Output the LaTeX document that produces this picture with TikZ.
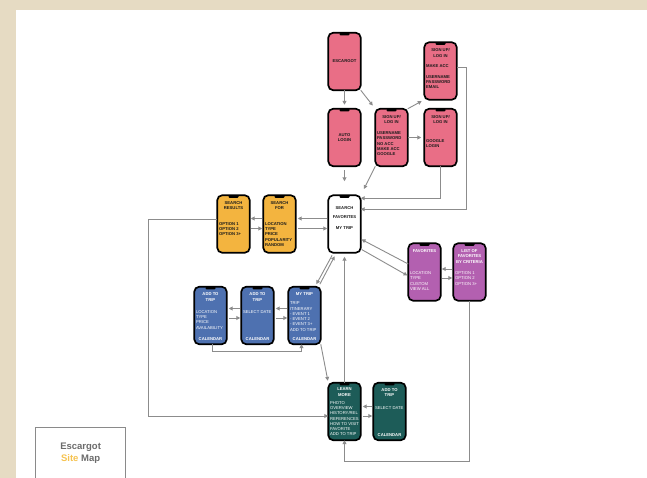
\documentclass[tikz,border=0pt]{standalone}
\usepackage{fontspec}
\setmainfont{Liberation Sans}
\usetikzlibrary{arrows.meta}
\definecolor{beige}{HTML}{E6DBC3}
\definecolor{pinkf}{HTML}{E96E86}
\definecolor{yelf}{HTML}{F3B43F}
\definecolor{purf}{HTML}{B360B0}
\definecolor{bluef}{HTML}{4E71B0}
\definecolor{tealf}{HTML}{1D5C58}
\definecolor{cgray}{HTML}{8C8C8C}
\definecolor{legtext}{HTML}{6B6B6B}
\definecolor{legframe}{HTML}{8A8A8A}
\definecolor{siteY}{HTML}{F6C350}
\definecolor{darktext}{HTML}{1A1A1A}
\newcommand\phsz{\fontsize{4.2}{5.3}\selectfont}
\newcommand\phbox[2]{\parbox[c][53pt][t]{29pt}{\phsz\bfseries\vspace*{#1}#2}}
\newcommand\phmid[1]{\parbox[c][53pt][c]{29pt}{\phsz\bfseries\centering #1\par}}
\newcommand\pht[1]{{\centering #1\par}}
\newcommand\phl[1]{{\raggedright #1\par}}
\newcommand\phlm[1]{{\raggedright\mdseries #1\par}}
\newcommand\phcal{\vfill{\centering CALENDAR\par}\vspace*{1.5pt}}
\tikzset{
  phone/.style={draw=black, line width=1.7pt, rounded corners=5pt,
    minimum width=32.5pt, minimum height=57.5pt, inner sep=0pt, outer sep=0pt,
    path picture={\fill[black, rounded corners=1pt]
      ([xshift=-5pt]path picture bounding box.north) rectangle
      ([xshift=5pt,yshift=-2.6pt]path picture bounding box.north);}},
  pinkph/.style={phone, fill=pinkf, text=darktext},
  yelph/.style={phone, fill=yelf, text=darktext},
  whiteph/.style={phone, fill=white, text=darktext},
  purph/.style={phone, fill=purf, text=white},
  blueph/.style={phone, fill=bluef, text=white},
  tealph/.style={phone, fill=tealf, text=white},
  arr/.style={draw=cgray, line width=0.9pt, -{Triangle[length=3.8pt,width=3.8pt]}},
  legendbox/.style={draw=legframe, line width=1.2pt, fill=white,
    minimum width=90pt, minimum height=52pt, inner sep=0pt, align=center,
    font=\fontsize{9.5}{12}\selectfont\bfseries, text=legtext}
}
\begin{document}
\begin{tikzpicture}[x=1pt, y=-1pt]
\useasboundingbox (0,0) rectangle (647,478);
\begin{scope}
\clip (0,0) rectangle (647,478);
\fill[beige] (0,0) rectangle (647,478);
\fill[white] (16,10) rectangle (647,478);

% login cluster
\node[pinkph] (esc) at (344.5,61.5) {\phmid{ESCARGOT}};
\node[pinkph] (auto) at (344.5,137.5) {\phmid{AUTO\\LOGIN}};
\node[pinkph] (sm) at (391.5,137.5) {\phbox{4.6pt}{\pht{SIGN UP/\\LOG IN}\vspace{5.3pt}\phl{USERNAME\\PASSWORD\\NO ACC\\MAKE ACC\\GOOGLE}}};
\node[pinkph] (st) at (440.5,71) {\phbox{4.3pt}{\pht{SIGN UP/\\LOG IN}\vspace{5.3pt}\phl{MAKE ACC}\vspace{5.3pt}\phl{USERNAME\\PASSWORD\\EMAIL}}};
\node[pinkph] (sg) at (440.5,137.5) {\phbox{4.6pt}{\pht{SIGN UP/\\LOG IN}\vspace{13.3pt}\phl{GOOGLE\\LOGIN}}};

% search row
\node[whiteph] (home) at (344.5,224) {\phbox{8.8pt}{\pht{SEARCH}\vspace{4.1pt}\pht{FAVORITES}\vspace{5.3pt}\pht{MY TRIP}}};
\node[yelph] (sr) at (233.5,224) {\phbox{3.9pt}{\pht{SEARCH\\RESULTS}\vspace{10.4pt}\phl{OPTION 1\\OPTION 2\\OPTION 3+}}};
\node[yelph] (sf) at (279.5,224) {\phbox{3.9pt}{\pht{SEARCH\\FOR}\vspace{10.4pt}\phl{LOCATION\\TYPE\\PRICE\\POPULARITY\\RANDOM}}};

% favorites
\node[purph] (fav) at (424.5,272) {\phbox{4.2pt}{\pht{FAVORITES}\vspace{16.7pt}\phlm{LOCATION\\TYPE\\CUSTOM\\VIEW ALL}}};
\node[purph] (list) at (469.5,272) {\phbox{4.2pt}{\pht{LIST OF\\FAVORITES\\\mbox{BY CRITERIA}}\vspace{6.1pt}\phlm{OPTION 1\\OPTION 2\\OPTION 3+}}};

% trip
\node[blueph] (add1) at (210.5,315.5) {\phbox{3.9pt}{\pht{ADD TO\\TRIP}\vspace{6.8pt}\phlm{LOCATION\\TYPE\\PRICE\\AVAILABILITY}\phcal}};
\node[blueph] (add2) at (257.5,315.5) {\phbox{3.9pt}{\pht{ADD TO\\TRIP}\vspace{6.8pt}\phlm{\mbox{SELECT DATE}}\phcal}};
\node[blueph] (mytrip) at (304.5,315.5) {\phbox{3.9pt}{\pht{MY TRIP}\vspace{3.7pt}\phlm{TRIP\\ITINERARY\\- EVENT 1\\- EVENT 2\\- EVENT 3+\\\mbox{ADD TO TRIP}}\phcal}};

% learn more
\node[tealph] (learn) at (344.5,411.5) {\phbox{2.9pt}{\pht{LEARN\\MORE}\vspace{2.8pt}\phlm{PHOTO\\OVERVIEW\\\mbox{HISTORY/REL}\\REFERENCES\\\mbox{HOW TO VISIT}\\FAVORITE\\\mbox{ADD TO TRIP}}}};
\node[tealph] (add3) at (389.5,411.5) {\phbox{3.6pt}{\pht{ADD TO\\TRIP}\vspace{7.4pt}\phlm{\mbox{SELECT DATE}}\phcal}};

% legend
\node[legendbox, anchor=north west] (leg) at (35,427) {Escargot\\{\color{siteY}Site} Map};

% connectors
\draw[arr, shorten >=4pt] (esc.south) -- (auto.north);
\draw[arr, shorten >=4pt] (esc.south east) -- (sm.north west);
\draw[arr, shorten <=4pt, shorten >=14pt] (auto.south) -- (home.north);
\draw[arr, shorten >=3pt] (sm.north east) -- (st.south west);
\draw[arr, shorten >=3pt] (sm.east) -- (sg.west);
\draw[arr, shorten >=7pt] (sm.south west) -- (home.north east);
\draw[arr] (sg.south) |- ([yshift=-3pt]home.north east);
\draw[arr] ([yshift=4pt]st.east) -- ([xshift=10pt,yshift=4pt]st.east) |- ([yshift=-14pt]home.north east);

\draw[arr, shorten <=1pt, shorten >=2pt] ([yshift=5.5pt]home.west) -- ([yshift=5.5pt]sf.east);
\draw[arr, shorten <=2pt, shorten >=1pt] ([yshift=-4.5pt]sf.east) -- ([yshift=-4.5pt]home.west);
\draw[arr, shorten <=1pt, shorten >=1pt] ([yshift=5.5pt]sf.west) -- ([yshift=5.5pt]sr.east);
\draw[arr, shorten <=1pt, shorten >=1pt] ([yshift=-4.5pt]sr.east) -- ([yshift=-4.5pt]sf.west);
\draw[arr] ([yshift=5pt]sr.west) -- ([xshift=-69pt,yshift=5pt]sr.west) |- ([yshift=-4.5pt]learn.west);

\draw[arr, shorten >=1pt] ([yshift=8pt]fav.west) -- ([yshift=-15pt]home.east);
\draw[arr, shorten <=1pt, shorten >=1pt] ([yshift=-25pt]home.east) -- ([yshift=-4pt]fav.west);
\draw[arr, shorten <=1pt, shorten >=1pt] ([yshift=3pt]list.west) -- ([yshift=3pt]fav.east);
\draw[arr, shorten <=1pt, shorten >=1pt] ([yshift=-6pt]fav.east) -- ([yshift=-6pt]list.west);
\draw[arr] (list.south) -- ([yshift=-161pt]list.south) -| (learn.south);

\draw[arr, shorten <=3pt, shorten >=3pt] ([xshift=-11pt]home.south) -- ([xshift=10.5pt]mytrip.north);
\draw[arr, shorten <=3pt, shorten >=4pt] ([xshift=14pt]mytrip.north) -- ([xshift=-8pt]home.south);
\draw[arr, shorten >=4pt] (learn.north) -- (home.south);
\draw[arr, shorten >=2pt] (mytrip.south east) -- (learn.north west);

\draw[arr, shorten <=1pt, shorten >=2pt] ([yshift=7pt]mytrip.west) -- ([yshift=7pt]add2.east);
\draw[arr, shorten <=2pt, shorten >=1pt] ([yshift=-2.5pt]add2.east) -- ([yshift=-2.5pt]mytrip.west);
\draw[arr, shorten <=1pt, shorten >=2pt] ([yshift=7pt]add2.west) -- ([yshift=7pt]add1.east);
\draw[arr, shorten <=2pt, shorten >=1pt] ([yshift=-2.5pt]add1.east) -- ([yshift=-2.5pt]add2.west);
\draw[arr] ([xshift=2pt]add1.south) -- ([xshift=2pt,yshift=-7pt]add1.south) -| ([xshift=-3pt]mytrip.south);

\draw[arr, shorten <=1pt, shorten >=2pt] ([yshift=5pt]add3.west) -- ([yshift=5pt]learn.east);
\draw[arr, shorten <=2pt, shorten >=1pt] ([yshift=-4.5pt]learn.east) -- ([yshift=-4.5pt]add3.west);
\end{scope}
\end{tikzpicture}
\end{document}
